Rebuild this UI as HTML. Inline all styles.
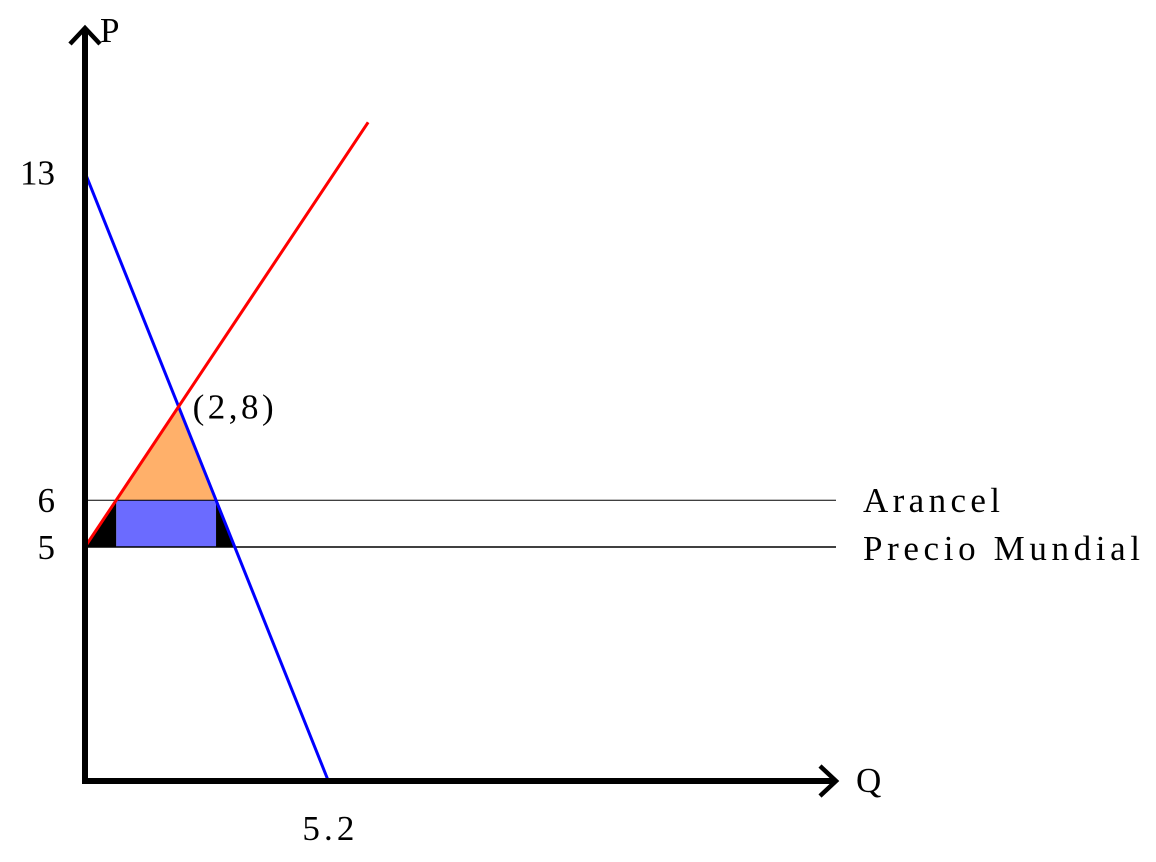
<!DOCTYPE html>
<html><head><meta charset="utf-8"><style>
body{margin:0;background:#fff}
svg text{font-family:"Liberation Serif",serif;font-size:35px;fill:#000}
</style></head><body>
<svg width="1156" height="857">
<g id="marks"></g>
<text x="100" y="42">P</text>
<text x="856" y="792">Q</text>
</svg>
<script>
const demand = {intercept: 13, slope: -2.5};
const supply = {intercept: 5, slope: 1.5};
const worldPrice = [5];
const tariffPrice = [6];
const equilibrium = [2, 8];
const supplyMaxQ = [6.05];
const yTicks = [13, 6, 5];
const xTicks = [5.2];
const lineLabels = ["Arancel", "Precio Mundial"];

const ox = 85, oy = 781, k = 46.8;
const X = q => ox + q * k, Y = p => oy - p * k;
const NS = "http://www.w3.org/2000/svg";
const g = document.getElementById('marks');
function add(tag, attrs, name) {
  const e = document.createElementNS(NS, tag);
  for (const a in attrs) e.setAttribute(a, attrs[a]);
  
  
  g.appendChild(e); return e;
}
const pw = worldPrice[0], pt = tariffPrice[0];
const qs = p => (p - supply.intercept) / supply.slope;
const qd = p => (p - demand.intercept) / demand.slope;
const pts = a => a.map(([q, p]) => X(q) + ',' + Y(p)).join(' ');
add('polygon', {points: pts([[qs(pt), pt], [equilibrium[0], equilibrium[1]], [qd(pt), pt]]), fill: '#ffb06a'}, 'deadweight-orange');
add('polygon', {points: pts([[qs(pt), pt], [qd(pt), pt], [qd(pt), pw], [qs(pt), pw]]), fill: '#6b6bff'}, 'tariff-revenue');
add('polygon', {points: pts([[qs(pw), pw], [qs(pt), pt], [qs(pt), pw]]), fill: '#000'}, 'deadweight-left');
add('polygon', {points: pts([[qd(pt), pt], [qd(pt), pw], [qd(pw), pw]]), fill: '#000'}, 'deadweight-right');
add('line', {x1: X(0), y1: Y(pt), x2: 836, y2: Y(pt), stroke: '#000', 'stroke-width': 1}, 'tariff-line');
add('line', {x1: X(0), y1: Y(pw), x2: 836, y2: Y(pw), stroke: '#000', 'stroke-width': 1.6}, 'world-price-line');
add('line', {x1: X(0), y1: Y(demand.intercept), x2: X(qd(0)), y2: Y(0), stroke: '#0000ff', 'stroke-width': 3}, 'demand-line');
add('line', {x1: X(0), y1: Y(supply.intercept), x2: X(supplyMaxQ[0]), y2: Y(supply.intercept + supply.slope * supplyMaxQ[0]), stroke: '#ff0000', 'stroke-width': 3}, 'supply-line');
add('polyline', {points: `${ox},${oy} ${ox},28`, fill: 'none', stroke: '#000', 'stroke-width': 6}, 'y-axis');
add('polyline', {points: `${ox - 3},${oy} 836,${oy}`, fill: 'none', stroke: '#000', 'stroke-width': 6}, 'x-axis');
add('polyline', {points: `${ox - 15},${44} ${ox},28 ${ox + 15},44`, fill: 'none', stroke: '#000', 'stroke-width': 4.5}, 'y-arrow');
add('polyline', {points: `820,${oy - 15} 836,${oy} 820,${oy + 15}`, fill: 'none', stroke: '#000', 'stroke-width': 4.5}, 'x-arrow');
yTicks.forEach(v => { const t = add('text', {x: 55, y: Y(v) + 12, 'text-anchor': 'end'}, 'y-tick-label'); t.textContent = v; });
xTicks.forEach(v => { const t = add('text', {x: X(v), y: 840, 'text-anchor': 'middle', textLength: 52}, 'x-tick-label'); t.textContent = v; });
const e = add('text', {x: X(equilibrium[0]) + 14, y: Y(equilibrium[1]) + 12, textLength: 81}, 'equilibrium-label');
e.textContent = '(' + equilibrium[0] + ',' + equilibrium[1] + ')';
const l1 = add('text', {x: 863, y: Y(pt) + 12, textLength: 137}, 'tariff-label'); l1.textContent = lineLabels[0];
const l2 = add('text', {x: 863, y: Y(pw) + 13, textLength: 277}, 'world-price-label'); l2.textContent = lineLabels[1];
</script>
</body></html>
